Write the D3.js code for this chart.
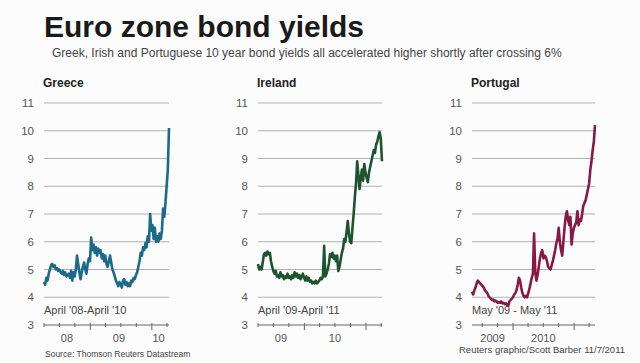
<!DOCTYPE html>
<html>
<head>
<meta charset="utf-8">
<script src="https://cdn.jsdelivr.net/npm/d3@7"></script>
<style>
  body { margin: 0; background: #fcfcfc; }
  text { font-family: "Liberation Sans", Arial, sans-serif; }
</style>
</head>
<body>
<div id="chart"></div>
<script>
// weekly 10 year yields
var greeceStart = "2008-04-01";
var greeceYield = [
  4.55, 4.45, 4.7, 4.6, 4.85, 5.0, 5.15, 5.2, 5.1,
  5.15, 5.0, 5.05, 4.95, 5.0, 4.9, 4.85, 4.95,
  4.8, 4.9, 4.75, 4.8, 4.85, 4.7, 4.95, 4.6, 4.9, 4.75, 5.0,
  5.5, 5.2, 4.9, 4.65, 4.9, 5.1, 5.25, 5.0, 4.85, 5.2, 5.4, 5.3,
  6.15, 5.7, 5.9, 5.6, 5.8, 5.5, 5.75, 5.6, 5.7, 5.4,
  5.55, 5.3, 5.5, 5.2, 5.1, 5.3, 5.5, 5.25, 5.0, 4.9,
  4.75, 4.6, 4.5, 4.4, 4.55, 4.45, 4.35, 4.6, 4.65, 4.45,
  4.55, 4.4, 4.5, 4.4, 4.6, 4.55, 4.7, 4.65, 4.8, 4.9,
  5.1, 5.3, 5.6, 5.5, 5.8, 5.7, 5.95, 5.8, 6.2, 6.0,
  7.0, 6.4, 6.6, 6.1, 6.5, 6.0, 6.2, 6.0, 6.3, 6.1,
  6.4, 7.2, 6.9, 7.4, 8.0, 8.6, 10.1
];

var irelandStart = "2009-04-01";
var irelandYield = [
  5.2, 5.0, 5.1, 5.0, 5.25, 5.55, 5.6, 5.5, 5.65, 5.55,
  5.6, 5.3, 5.1, 4.95, 4.85, 4.95, 4.75, 4.8, 4.7, 4.9,
  4.75, 4.8, 4.65, 4.75, 4.7, 4.85, 4.7, 4.75, 4.65, 4.8,
  4.7, 4.9, 4.75, 4.85, 4.7, 4.8, 4.65, 4.75, 4.85, 4.7,
  4.6, 4.75, 4.6, 4.7, 4.55, 4.6, 4.5, 4.55, 4.5, 4.6,
  4.5, 4.55, 4.6, 4.7, 4.65, 4.75, 5.85, 4.75, 4.85, 5.0,
  5.2, 5.55, 5.45, 5.6, 5.4, 5.5, 5.3, 5.5, 4.95, 5.1,
  5.35, 5.6, 5.75, 6.1, 6.0, 6.35, 6.75, 6.3, 6.0, 5.95,
  6.5, 7.0, 7.6, 8.1, 8.9, 8.4, 7.9, 8.3, 8.6, 8.2,
  8.8, 8.5, 8.3, 8.15, 8.5, 8.7, 8.9, 9.1, 9.3, 9.2,
  9.5, 9.6, 9.8, 9.95, 9.7, 8.9
];

var portugalStart = "2009-05-01";
var portugalYield = [
  4.2, 4.1, 4.25, 4.35, 4.5, 4.6, 4.55, 4.5, 4.45, 4.4,
  4.35, 4.25, 4.2, 4.15, 4.05, 4.0, 3.95, 3.9, 3.92, 3.85,
  3.88, 3.85, 3.8, 3.82, 3.8, 3.85, 3.78, 3.8, 3.75, 3.78,
  3.72, 3.7, 3.85, 3.9, 3.95, 4.0, 4.1, 4.15, 4.25, 4.45,
  4.7, 4.6, 4.35, 4.15, 4.05, 4.0, 4.05, 4.0, 4.15, 4.3,
  4.5, 4.7, 4.85, 6.3, 4.9, 4.6, 4.8, 5.1, 5.4, 5.6,
  5.7, 5.4, 5.5, 5.45, 5.3, 5.1, 5.05, 5.0, 5.15, 5.3,
  5.5, 5.7, 5.95, 6.1, 6.5, 6.0, 5.7, 5.5, 6.0, 6.5,
  6.9, 7.1, 6.8, 6.6, 6.9, 5.9, 6.3, 6.5, 6.6, 6.7,
  7.1, 6.6, 6.8, 6.75, 7.0, 7.3, 7.4, 7.5, 7.7, 7.9,
  8.1, 8.6, 8.9, 9.3, 9.6, 10.2
];

var yTicks = [3, 4, 5, 6, 7, 8, 9, 10, 11];

var greeceYears = ["08", "09", "10"];
var greeceYearAt = ["2008-08-15", "2009-06-20", "2010-02-10"];
var irelandYears = ["09", "10"];
var irelandYearAt = ["2009-08-15", "2010-07-01"];
var portugalYears = ["2009", "2010"];
var portugalYearAt = ["2009-09-01", "2010-07-01"];

var width = 640;
var height = 363;
var parse = d3.timeParse("%Y-%m-%d");

var svg = d3.select("#chart")
  .append("svg")
  .attr("width", width)
  .attr("height", height);

svg.append("rect").attr("width", width).attr("height", height).attr("fill", "#fcfcfc");

svg.append("text")
  .attr("x", 44).attr("y", 37)
  .attr("font-size", 30).attr("font-weight", "bold")
  .attr("fill", "#1a1a1a")
  .text("Euro zone bond yields");

svg.append("text")
  .attr("x", 52).attr("y", 57)
  .attr("font-size", 12).attr("fill", "#444")
  .text("Greek, Irish and Portuguese 10 year bond yields all accelerated higher shortly after crossing 6%");

svg.append("text")
  .attr("x", 45).attr("y", 357)
  .attr("font-size", 8.5).attr("fill", "#444")
  .text("Source: Thomson Reuters Datastream");

svg.append("text")
  .attr("x", 625).attr("y", 353)
  .attr("text-anchor", "end")
  .attr("font-size", 9.5).attr("fill", "#444")
  .text("Reuters graphic/Scott Barber 11/7/2011");

function weekly(start, values) {
  var s = parse(start);
  return values.map(function(v, i){
    return { date: d3.timeWeek.offset(s, i), value: v };
  });
}

var panels = [
  { name: "Greece", left: 44, right: 169, data: weekly(greeceStart, greeceYield),
    color: "#1b6a8a", range: "April '08-April '10", years: greeceYears, yearAt: greeceYearAt },
  { name: "Ireland", left: 258, right: 382, data: weekly(irelandStart, irelandYield),
    color: "#1d5430", range: "April '09-April '11", years: irelandYears, yearAt: irelandYearAt },
  { name: "Portugal", left: 472, right: 595, data: weekly(portugalStart, portugalYield),
    color: "#871a45", range: "May '09 - May '11", years: portugalYears, yearAt: portugalYearAt }
];

var y = d3.scaleLinear().domain([3, 11]).range([325, 103]);

panels.forEach(function(p){
  var g = svg.append("g");

  var x = d3.scaleTime()
    .domain(d3.extent(p.data, function(d){ return d.date; }))
    .range([p.left, p.right]);

  g.append("text")
    .attr("x", p.left - 1).attr("y", 87)
    .attr("font-size", 12).attr("font-weight", "bold")
    .attr("fill", "#222")
    .text(p.name);

  // gridlines
  g.selectAll(".grid")
    .data(yTicks.slice(1))
    .enter().append("line")
    .attr("x1", p.left).attr("x2", p.right)
    .attr("y1", function(d){ return y(d); })
    .attr("y2", function(d){ return y(d); })
    .attr("stroke", "#b0b0b0")
    .attr("stroke-width", 1.2);

  g.selectAll(".ylab")
    .data(yTicks)
    .enter().append("text")
    .attr("x", p.left - 10)
    .attr("y", function(d){ return y(d) + 4; })
    .attr("text-anchor", "end")
    .attr("font-size", 11.5)
    .attr("fill", "#555")
    .text(function(d){ return d; });

  // time axis along the 3 line
  g.append("line")
    .attr("x1", p.left).attr("x2", p.right)
    .attr("y1", y(3)).attr("y2", y(3))
    .attr("stroke", "#666").attr("stroke-width", 1);

  var quarters = x.ticks(d3.timeMonth.every(3));
  g.selectAll(".qtick")
    .data(quarters)
    .enter().append("line")
    .attr("x1", function(d){ return x(d); })
    .attr("x2", function(d){ return x(d); })
    .attr("y1", y(3) - 2)
    .attr("y2", function(d){ return d.getMonth() === 0 ? y(3) + 5 : y(3) + 2; })
    .attr("stroke", "#666");

  g.selectAll(".year")
    .data(p.years)
    .enter().append("text")
    .attr("x", function(d, i){ return x(parse(p.yearAt[i])); })
    .attr("y", 342)
    .attr("text-anchor", "middle")
    .attr("font-size", 11)
    .attr("fill", "#555")
    .text(function(d){ return d; });

  g.append("text")
    .attr("x", p.left).attr("y", 314)
    .attr("font-size", 11)
    .attr("fill", "#444")
    .text(p.range);

  var line = d3.line()
    .x(function(d){ return x(d.date); })
    .y(function(d){ return y(d.value); });

  g.append("path")
    .datum(p.data)
    .attr("d", line)
    .attr("fill", "none")
    .attr("stroke", p.color)
    .attr("stroke-width", 2.6)
    .attr("stroke-linejoin", "round");
});
</script>
</body>
</html>
